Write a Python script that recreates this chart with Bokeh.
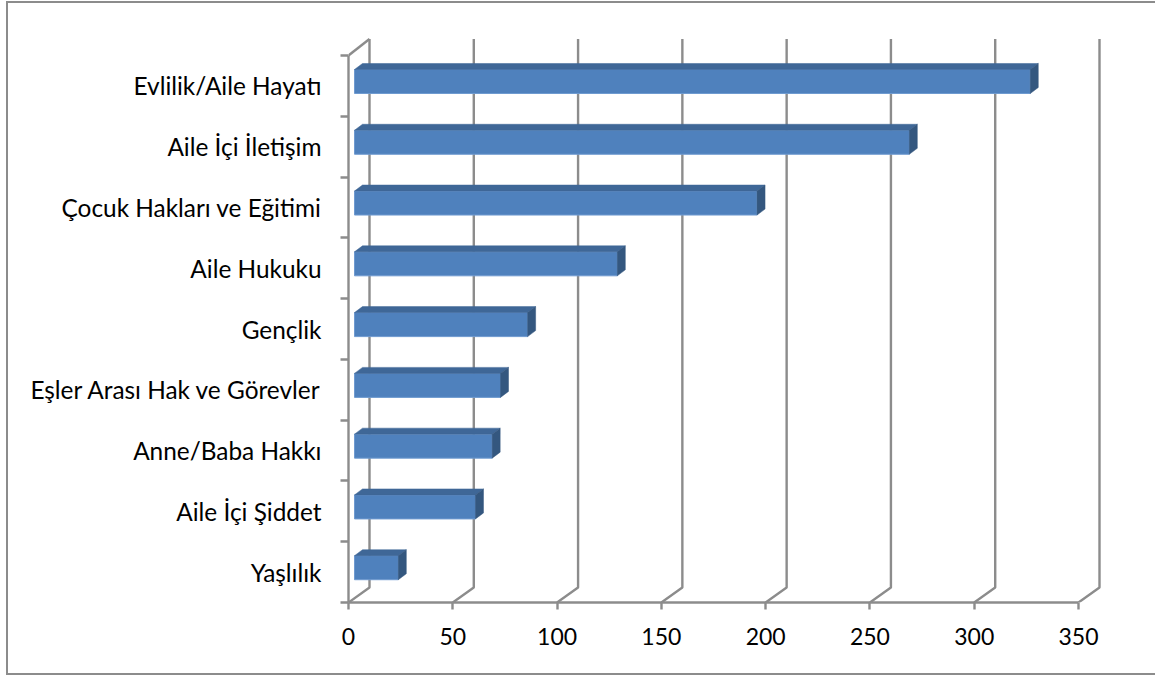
from bokeh.plotting import figure
from bokeh.embed import file_html
from bokeh.resources import INLINE
from bokeh.models import FixedTicker, Range1d

categories = ["Yaşlılık", "Aile İçi Şiddet", "Anne/Baba Hakkı", "Eşler Arası Hak ve Görevler",
              "Gençlik", "Aile Hukuku", "Çocuk Hakları ve Eğitimi", "Aile İçi İletişim", "Evlilik/Aile Hayatı"]
values = [21, 58, 66, 70, 83, 126, 193, 266, 324]
x_ticks = [0, 50, 100, 150, 200, 250, 300, 350]

# canvas placement (page px)
OX, OY = 8, 3
W, H = 1147, 670
F_L, F_R, F_T, F_B = 348, 1115, 32, 602
PX_X = (1078 - 348) / 350
PX_Y = (602 - 55) / 9

GRID = "#8c8c8c"
FONT = "Lato"
LW = 2.4

x_end = (F_R - F_L) / PX_X
y_end = (F_B - F_T) / PX_Y

p = figure(width=W, height=H, output_backend="svg", toolbar_location=None,
           x_range=Range1d(0, x_end), y_range=Range1d(0, y_end),
           min_border_left=F_L - OX, min_border_right=OX + W - F_R,
           min_border_top=F_T - OY, min_border_bottom=OY + H - F_B,
           margin=(OY, 0, 0, OX), outline_line_color=None)
p.grid.visible = False
# chart-area border (left, top, bottom; the right side runs off the picture)
p.styles = {"box-shadow": f"-2px 0 0 {GRID}, 0 -2px 0 {GRID}, 0 2px 0 {GRID}, -2px -2px 0 {GRID}, -2px 2px 0 {GRID}"}

# back wall gridlines + floor diagonals
dx_wall = 21 / PX_X
dy_wall = 15 / PX_Y
dy_top = 16.5 / PX_Y
n = len(categories)
p.multi_line(xs=[[t, t + dx_wall, t + dx_wall] for t in x_ticks],
             ys=[[0, dy_wall, n + dy_top] for _ in x_ticks],
             line_color=GRID, line_width=LW)
p.line([0, dx_wall], [n, n + dy_top], line_color=GRID, line_width=LW)

# 3D bars
x0 = 6 / PX_X
d_x = 8 / PX_X
d_y = 6 / PX_Y
half = 12 / PX_Y
shift = 4.4 / PX_Y
centers = [i + 0.5 for i in range(n)]
lo = [c + shift - half for c in centers]
hi = [c + shift + half for c in centers]
ends = [x0 + v for v in values]

p.patches([[x0, e, e, x0] for e in ends], [[a, a, b, b] for a, b in zip(lo, hi)],
          fill_color="#4F81BD", line_color="#6F9AD0", line_width=1)
p.patches([[x0, e, e + d_x, x0 + d_x] for e in ends], [[b, b, b + d_y, b + d_y] for b in hi],
          fill_color="#3F6797", line_color="#3F6797", line_width=0.5)
p.patches([[e, e + d_x, e + d_x, e] for e in ends],
          [[a, a + d_y, b + d_y, b] for a, b in zip(lo, hi)],
          fill_color="#34577F", line_color="#34577F", line_width=0.5)

# axes
xa = p.xaxis[0]
xa.ticker = FixedTicker(ticks=x_ticks)
xa.bounds = (0, 350)
xa.axis_line_color = GRID
xa.axis_line_width = LW
xa.major_tick_line_color = GRID
xa.major_tick_line_width = LW
xa.major_tick_out = 7
xa.major_tick_in = 0
xa.minor_tick_out = 0
xa.major_label_standoff = 18
xa.major_label_text_font = FONT
xa.major_label_text_font_size = "23px"
xa.major_label_text_color = "#000000"

ya = p.yaxis[0]
ya.ticker = FixedTicker(ticks=centers, minor_ticks=list(range(n + 1)))
ya.bounds = (0, n)
ya.major_label_overrides = {c: nm for c, nm in zip(centers, categories)}
ya.axis_line_color = GRID
ya.axis_line_width = LW
ya.major_tick_out = 0
ya.major_tick_in = 0
ya.minor_tick_line_color = GRID
ya.minor_tick_line_width = LW
ya.minor_tick_out = 8
ya.minor_tick_in = 0
ya.major_label_standoff = 19
ya.major_label_text_font = FONT
ya.major_label_text_font_size = "24.4px"
ya.major_label_text_color = "#000000"

open("out.html", "w").write(file_html(p, INLINE))
